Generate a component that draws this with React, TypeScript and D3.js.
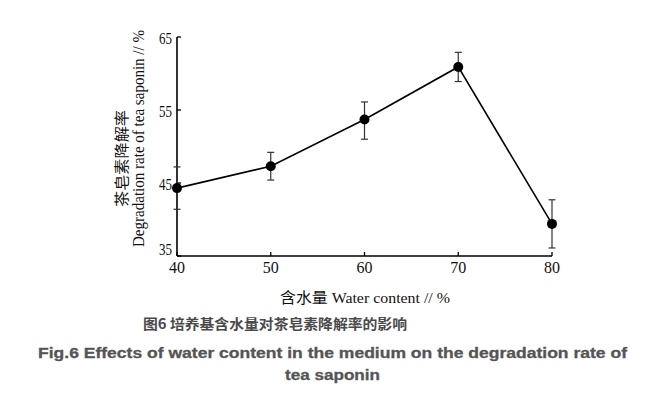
import React from "react";
import * as d3 from "d3";

const waterContent = [40, 50, 60, 70, 80];
const degradation = [44.3, 47.3, 53.7, 60.9, 39.4];
const errUpper = [47.2, 49.2, 56.1, 62.9, 42.7];
const errLower = [41.4, 45.4, 51.0, 58.9, 36.1];
const xTicks = [40, 50, 60, 70, 80];
const yTicks = [65, 55, 45, 35];

const W = 660;
const H = 394;

export default function App() {
  const x = d3.scaleLinear().domain([40, 80]).range([177, 552]);
  const y = d3.scaleLinear().domain([35, 65]).range([256, 37]);
  const line = d3
    .line<number>()
    .x((_, i) => x(waterContent[i]))
    .y((d) => y(d));
  const serif = "'Liberation Serif', 'DejaVu Serif', serif";
  const cjk = "'Noto Sans CJK SC', sans-serif";
  return (
    <svg
      width={W}
      height={H}
      style={{ position: "absolute", left: 0, top: 0, background: "#fff" }}
    >
      {/* axes */}
      <line x1={x(40)} x2={x(40)} y1={y(65)} y2={y(35)} stroke="#000" strokeWidth={1.6} />
      <line x1={x(40)} x2={x(80)} y1={y(35)} y2={y(35)} stroke="#000" strokeWidth={1.6} />
      {yTicks.map((t) => (
        <line key={"yt" + t} x1={x(40)} x2={x(40) + 4} y1={y(t)} y2={y(t)} stroke="#000" strokeWidth={1.3} />
      ))}
      {xTicks.map((t) => (
        <line key={"xt" + t} x1={x(t)} x2={x(t)} y1={y(35)} y2={y(35) - 4} stroke="#000" strokeWidth={1.3} />
      ))}
      {yTicks.map((t) => (
        <text
          key={"yl" + t}
          x={172}
          y={Math.min(y(t) + 7, y(35) - 1)}
          textAnchor="end"
          fontFamily={serif}
          fontSize={16}
          fill="#111"
          textLength={13}
          lengthAdjust="spacingAndGlyphs"
        >
          {t}
        </text>
      ))}
      {xTicks.map((t) => (
        <text
          key={"xl" + t}
          x={x(t)}
          y={273}
          textAnchor="middle"
          fontFamily={serif}
          fontSize={16}
          fill="#111"
        >
          {t}
        </text>
      ))}
      {/* axis titles */}
      <text
        x={x(40) + 103}
        y={303}
        fontFamily={serif}
        fontSize={15}
        fill="#111"
        textLength={170}
        lengthAdjust="spacingAndGlyphs"
      >
        <tspan fontFamily={cjk}>含水量</tspan> Water content // %
      </text>
      <text
        transform="translate(127,158.5) rotate(-90)"
        textAnchor="middle"
        fontFamily={cjk}
        fontSize={15}
        fill="#111"
        textLength={97}
        lengthAdjust="spacingAndGlyphs"
      >
        茶皂素降解率
      </text>
      <text
        transform="translate(144,138.5) rotate(-90)"
        textAnchor="middle"
        fontFamily={serif}
        fontSize={16}
        fill="#111"
        textLength={217}
        lengthAdjust="spacingAndGlyphs"
      >
        Degradation rate of tea saponin // %
      </text>
      {/* error bars */}
      {waterContent.map((w, i) => (
        <g key={"eb" + w} stroke="#333" strokeWidth={1.2}>
          <line x1={x(w)} x2={x(w)} y1={y(errUpper[i])} y2={y(errLower[i])} />
          <line x1={x(w) - 3.5} x2={x(w) + 3.5} y1={y(errUpper[i])} y2={y(errUpper[i])} />
          <line x1={x(w) - 3.5} x2={x(w) + 3.5} y1={y(errLower[i])} y2={y(errLower[i])} />
        </g>
      ))}
      {/* line */}
      <path d={line(degradation) || ""} fill="none" stroke="#000" strokeWidth={1.6} />
      {degradation.map((d, i) => (
        <circle key={"pt" + i} cx={x(waterContent[i])} cy={y(d)} r={5} fill="#000" />
      ))}
      {/* captions */}
      <text
        x={143}
        y={329}
        fontFamily={cjk}
        fontWeight="bold"
        fontSize={14}
        fill="#4a4a4a"
        textLength={264}
        lengthAdjust="spacingAndGlyphs"
      >
        图6 培养基含水量对茶皂素降解率的影响
      </text>
      <text
        x={38}
        y={358}
        fontFamily="'Liberation Sans', Arial, sans-serif"
        fontWeight="bold"
        fontSize={14.5}
        fill="#555"
        stroke="#555"
        strokeWidth={0.3}
        textLength={589}
        lengthAdjust="spacingAndGlyphs"
      >
        Fig.6 Effects of water content in the medium on the degradation rate of
      </text>
      <text
        x={285}
        y={380}
        fontFamily="'Liberation Sans', Arial, sans-serif"
        fontWeight="bold"
        fontSize={14.5}
        fill="#555"
        stroke="#555"
        strokeWidth={0.3}
        textLength={95}
        lengthAdjust="spacingAndGlyphs"
      >
        tea saponin
      </text>
    </svg>
  );
}
